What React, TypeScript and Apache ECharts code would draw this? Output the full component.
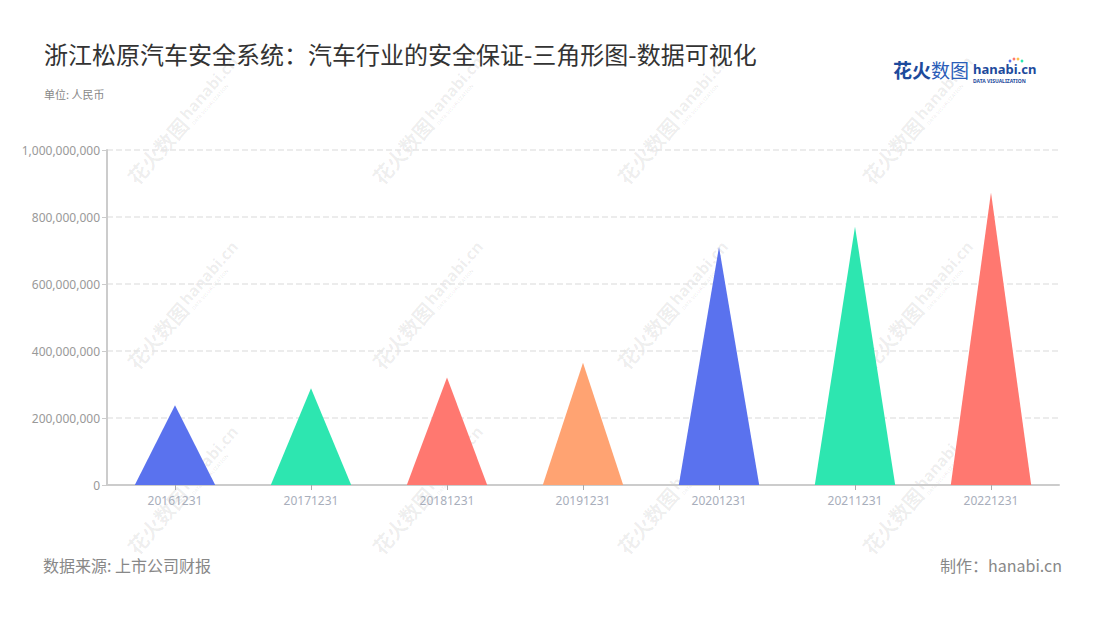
import React, { useEffect, useRef } from "react";
import * as echarts from "echarts";

const categories = ["20161231", "20171231", "20181231", "20191231", "20201231", "20211231", "20221231"];
const values = [238000000, 289000000, 321000000, 365000000, 711000000, 771000000, 873000000];
const colors = ["#5a72ee", "#2de6b0", "#ff7870", "#ffa372", "#5a72ee", "#2de6b0", "#ff7870"];
const yTicks = { min: 0, max: 1000000000, interval: 200000000 };

const title = "浙江松原汽车安全系统：汽车行业的安全保证-三角形图-数据可视化";
const unitText = "单位: 人民币";
const sourceText = "数据来源: 上市公司财报";
const makerText = "制作：hanabi.cn";

const wmCols = [180, 425, 670, 915];
const wmRows = [125, 310, 495];

function watermark(x: number, y: number) {
  const c = "rgba(0,0,0,0.07)";
  return {
    type: "group",
    x,
    y,
    rotation: Math.PI * 0.27,
    silent: true,
    z: 100,
    children: [
      {
        type: "text",
        x: -74,
        y: 0,
        style: { text: "花火数图", fill: c, font: "bold 20px 'Noto Sans CJK SC'", textVerticalAlign: "middle" },
      },
      {
        type: "text",
        x: 8,
        y: -3,
        style: { text: "hanabi.cn", fill: c, font: "bold 16px 'Noto Sans', sans-serif", textVerticalAlign: "middle" },
      },
      {
        type: "text",
        x: 9,
        y: 9,
        style: { text: "DATA VISUALIZATION", fill: c, font: "bold 5px 'Noto Sans', sans-serif", textVerticalAlign: "middle" },
      },
    ],
  };
}

export default function App() {
  const ref = useRef<HTMLDivElement>(null);
  useEffect(() => {
    if (!ref.current) return;
    const chart = echarts.init(ref.current, undefined, { renderer: "svg" });
    const wms: any[] = [];
    wmRows.forEach((y) => wmCols.forEach((x) => wms.push(watermark(x, y))));
    chart.setOption({
      animation: false,
      backgroundColor: "#ffffff",
      title: [
        {
          text: title,
          left: 44,
          top: 41,
          padding: 0,
          textStyle: { fontSize: 24, fontWeight: "normal", color: "#333333", fontFamily: "'Noto Sans CJK SC'" },
        },
        {
          text: unitText,
          left: 44,
          top: 88,
          padding: 0,
          textStyle: { fontSize: 11, fontWeight: "normal", color: "#888888", fontFamily: "'Noto Sans CJK SC'" },
        },
        {
          text: sourceText,
          left: 43,
          top: 557,
          padding: 0,
          textStyle: { fontSize: 16, fontWeight: "normal", color: "#888888", fontFamily: "'Noto Sans CJK SC'" },
        },
        {
          text: makerText,
          right: 38,
          top: 557,
          padding: 0,
          textStyle: { fontSize: 16, fontWeight: "normal", color: "#888888", fontFamily: "'Noto Sans CJK SC'" },
        },
      ],
      grid: { left: 107, right: 41, top: 150, bottom: 135 },
      xAxis: {
        type: "category",
        data: categories,
        axisLine: { lineStyle: { color: "#cccccc", width: 2 } },
        axisTick: { show: true, alignWithLabel: true, lineStyle: { color: "#aaaaaa" }, length: 5 },
        axisLabel: { color: "#a8aebb", fontSize: 12, margin: 9, fontFamily: "'Noto Sans', sans-serif" },
      },
      yAxis: {
        type: "value",
        min: yTicks.min,
        max: yTicks.max,
        interval: yTicks.interval,
        axisLine: { show: true, lineStyle: { color: "#cccccc", width: 2 } },
        axisTick: { show: true, length: 5, lineStyle: { color: "#cccccc" } },
        axisLabel: {
          color: "#999999",
          fontSize: 12,
          margin: 7,
          fontFamily: "'Noto Sans', sans-serif",
          formatter: (v: number) => v.toLocaleString("en-US"),
        },
        splitLine: { lineStyle: { type: "dashed", color: "#e6e6e6", width: 1.5 } },
      },
      series: [
        {
          type: "pictorialBar",
          symbol: "triangle",
          barWidth: "59%",
          symbolSize: ["100%", "100%"],
          data: values.map((v, i) => ({ value: v, itemStyle: { color: colors[i] } })),
        },
      ],
      graphic: [
        ...wms,
        {
          type: "group",
          x: 893,
          y: 60,
          children: [
            {
              type: "text",
              x: 0,
              y: 0,
              style: { text: "花火", fill: "#1d4a9c", font: "bold 19px 'Noto Sans CJK SC'" },
            },
            {
              type: "text",
              x: 38,
              y: 0,
              style: { text: "数图", fill: "#2a5db8", font: "19px 'Noto Sans CJK SC'" },
            },
            {
              type: "text",
              x: 80,
              y: 2,
              style: { text: "hanabi.cn", fill: "#1d4a9c", font: "bold 13px 'Noto Sans', sans-serif" },
            },
            {
              type: "text",
              x: 80,
              y: 18,
              style: { text: "DATA VISUALIZATION", fill: "#1d4a9c", font: "bold 5px 'Noto Sans', sans-serif" },
            },
            { type: "circle", shape: { cx: 117, cy: 1, r: 1.4 }, style: { fill: "#5a72ee" } },
            { type: "circle", shape: { cx: 121, cy: -1, r: 1.4 }, style: { fill: "#ff7870" } },
            { type: "circle", shape: { cx: 125, cy: -1, r: 1.4 }, style: { fill: "#ffc04d" } },
            { type: "circle", shape: { cx: 129, cy: 1, r: 1.4 }, style: { fill: "#2de6b0" } },
          ],
        },
      ],
    });
    return () => chart.dispose();
  }, []);
  return <div ref={ref} style={{ position: "fixed", left: 0, top: 0, width: 1100, height: 620 }} />;
}
